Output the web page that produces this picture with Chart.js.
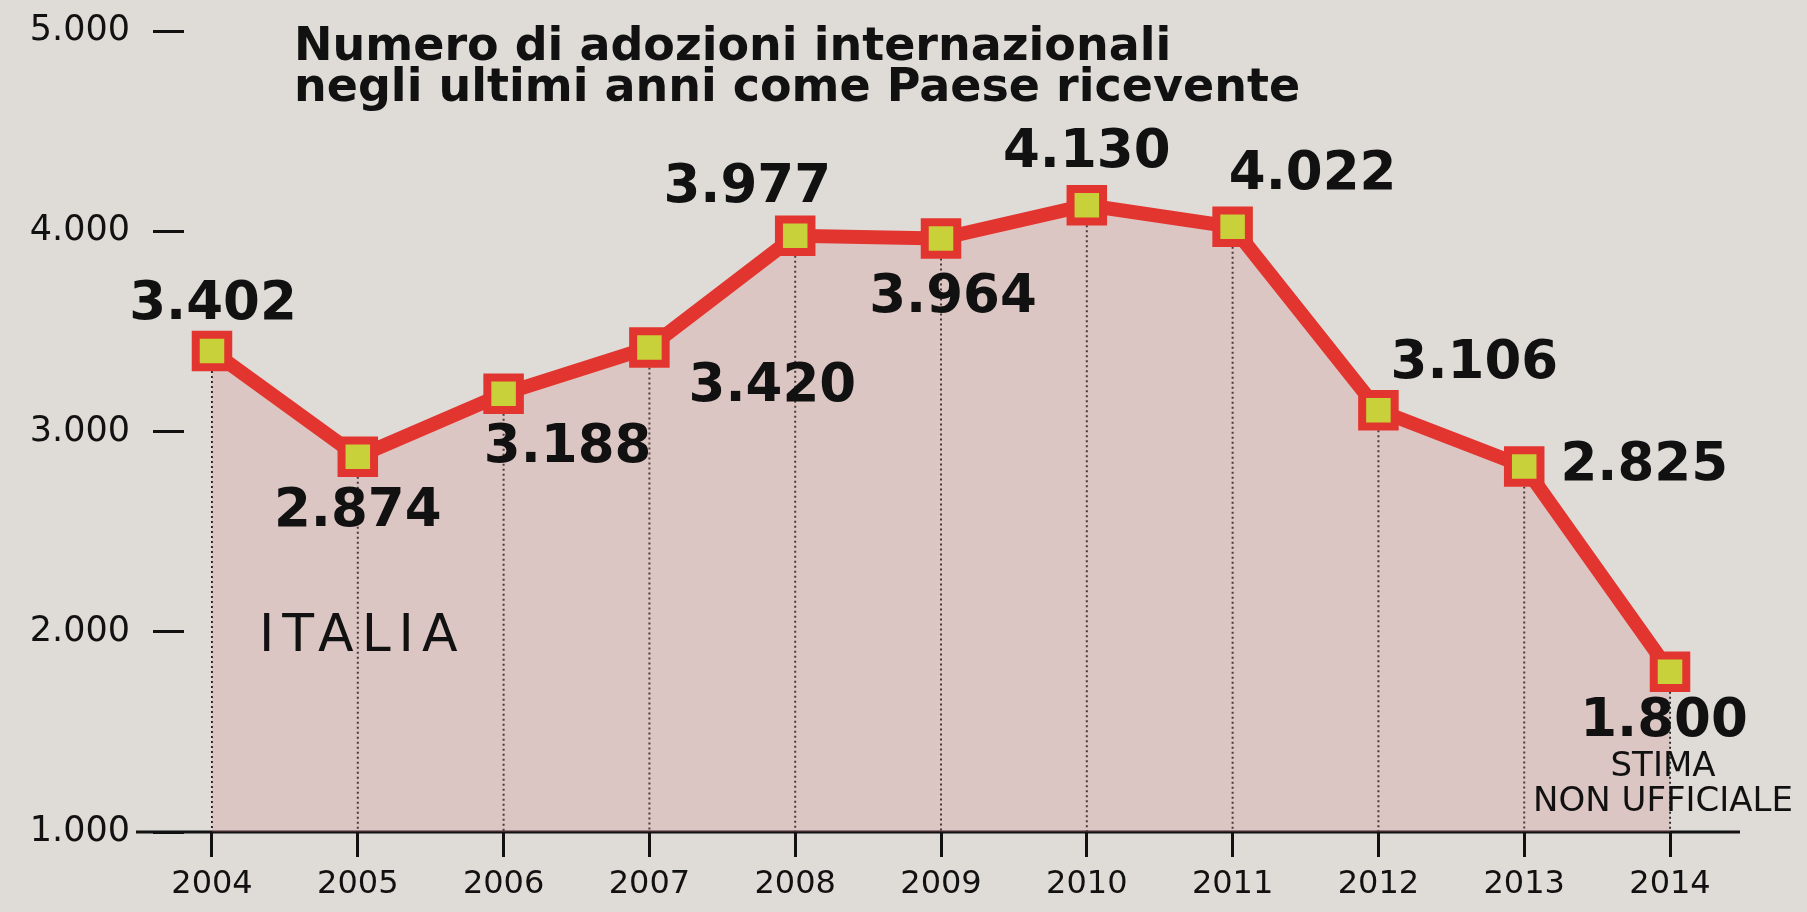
<!DOCTYPE html>
<html>
<head>
<meta charset="utf-8">
<script src="https://cdn.jsdelivr.net/npm/chart.js@4.4.0/dist/chart.umd.min.js"></script>
<style>
  html, body { margin: 0; padding: 0; background: #dfdcd8; }
  #wrap { width: 1807px; height: 912px; }
</style>
</head>
<body>
<div id="wrap"><canvas id="adozioni" width="1807" height="912"></canvas></div>
<script>
const years = [2004, 2005, 2006, 2007, 2008, 2009, 2010, 2011, 2012, 2013, 2014];
const adozioni = [3402, 2874, 3188, 3420, 3977, 3964, 4130, 4022, 3106, 2825, 1800];
const valueLabels = ['3.402', '2.874', '3.188', '3.420', '3.977', '3.964', '4.130', '4.022', '3.106', '2.825', '1.800'];
const yTicks = [1000, 2000, 3000, 4000, 5000];
const yTickLabels = ['1.000', '2.000', '3.000', '4.000', '5.000'];
const titleLines = ['Numero di adozioni internazionali', 'negli ultimi anni come Paese ricevente'];
const countryLabel = 'ITALIA';
const noteLines = ['STIMA', 'NON UFFICIALE'];

// where each value label sits relative to its marker (px)
const labelOffsets = [[1, -46], [0, 56], [64, 54], [123, 40], [-48, -48], [12, 60],
                      [0, -52], [80, -52], [96, -46], [120, 0], [-6, 50]];

const RED = '#e3352f';
const INK = '#111';

const decor = {
    id: 'decor',
    beforeDraw(chart) {
        const ctx = chart.ctx;
        ctx.save();
        ctx.fillStyle = '#dfdcd8';
        ctx.fillRect(0, 0, chart.width, chart.height);
        ctx.restore();
    },
    beforeDatasetsDraw(chart) {
        const ctx = chart.ctx;
        const base = chart.scales.y.getPixelForValue(1000);
        const pts = chart.getDatasetMeta(0).data;
        ctx.save();
        // dotted drop lines
        ctx.strokeStyle = '#222';
        ctx.lineWidth = 2;
        ctx.setLineDash([2, 3]);
        pts.forEach(p => {
            ctx.beginPath();
            ctx.moveTo(p.x, p.y);
            ctx.lineTo(p.x, base);
            ctx.stroke();
        });
        ctx.setLineDash([]);
        // x axis line, runs a bit left of the plot
        ctx.strokeStyle = INK;
        ctx.lineWidth = 3;
        ctx.beginPath();
        ctx.moveTo(136, base);
        ctx.lineTo(chart.chartArea.right, base);
        ctx.stroke();
        ctx.restore();
    },
    afterDatasetsDraw(chart) {
        const ctx = chart.ctx;
        const pts = chart.getDatasetMeta(0).data;
        ctx.save();
        ctx.fillStyle = INK;

        // title
        ctx.font = 'bold 46px "DejaVu Sans"';
        ctx.textAlign = 'left';
        ctx.textBaseline = 'alphabetic';
        ctx.fillText(titleLines[0], 294, 60);
        ctx.fillText(titleLines[1], 294, 101);

        // value labels
        ctx.font = 'bold 53px "DejaVu Sans"';
        ctx.textAlign = 'center';
        ctx.textBaseline = 'middle';
        pts.forEach((p, i) => {
            ctx.fillText(valueLabels[i], p.x + labelOffsets[i][0], p.y + labelOffsets[i][1]);
        });

        // note under the estimate
        const last = pts[pts.length - 1];
        ctx.font = '34px "DejaVu Sans"';
        ctx.fillText(noteLines[0], last.x - 7, last.y + 95);
        ctx.fillText(noteLines[1], last.x - 7, last.y + 130);

        // country
        ctx.font = '52px "DejaVu Sans"';
        ctx.textAlign = 'left';
        ctx.textBaseline = 'alphabetic';
        ctx.letterSpacing = '8px';
        ctx.fillText(countryLabel, 259, 651);
        ctx.restore();
    }
};

new Chart(document.getElementById('adozioni'), {
    type: 'line',
    data: {
        datasets: [{
            label: 'Adozioni',
            data: years.map((y, i) => ({ x: y, y: adozioni[i] })),
            borderColor: RED,
            borderWidth: 14,
            borderJoinStyle: 'miter',
            fill: 'start',
            backgroundColor: 'rgba(214, 130, 130, 0.24)',
            tension: 0,
            pointStyle: 'rect',
            pointRadius: 23,
            pointHoverRadius: 23,
            pointBorderWidth: 8,
            pointBorderColor: RED,
            pointBackgroundColor: '#c8d03a'
        }]
    },
    options: {
        responsive: false,
        animation: false,
        events: [],
        layout: { padding: { top: 26, right: 67, left: 0, bottom: 0 } },
        plugins: {
            legend: { display: false },
            tooltip: { enabled: false },
            title: { display: false }
        },
        scales: {
            x: {
                type: 'linear',
                min: 2003.808,
                max: 2014.48,
                afterFit(scale) { scale.height = 80; },
                border: { display: false },
                grid: {
                    drawOnChartArea: false,
                    drawTicks: true,
                    tickLength: 25,
                    lineWidth: 3,
                    color: INK
                },
                ticks: {
                    stepSize: 1,
                    includeBounds: false,
                    autoSkip: false,
                    maxRotation: 0,
                    padding: 8,
                    color: INK,
                    font: { family: 'DejaVu Sans', size: 32 },
                    callback: v => years.includes(v) ? String(v) : ''
                }
            },
            y: {
                min: 1000,
                max: 5000,
                afterFit(scale) {
                    scale.width = 184;
                    scale.paddingTop = 0;
                    scale.paddingBottom = 0;
                },
                afterBuildTicks(scale) { scale.ticks = yTicks.map(v => ({ value: v })); },
                border: { display: false },
                grid: {
                    drawOnChartArea: false,
                    drawTicks: true,
                    tickLength: 31,
                    lineWidth: 3,
                    color: INK
                },
                ticks: {
                    padding: 23,
                    color: INK,
                    font: { family: 'DejaVu Sans', size: 35 },
                    callback: v => yTickLabels[yTicks.indexOf(v)]
                }
            }
        }
    },
    plugins: [decor]
});
</script>
</body>
</html>
